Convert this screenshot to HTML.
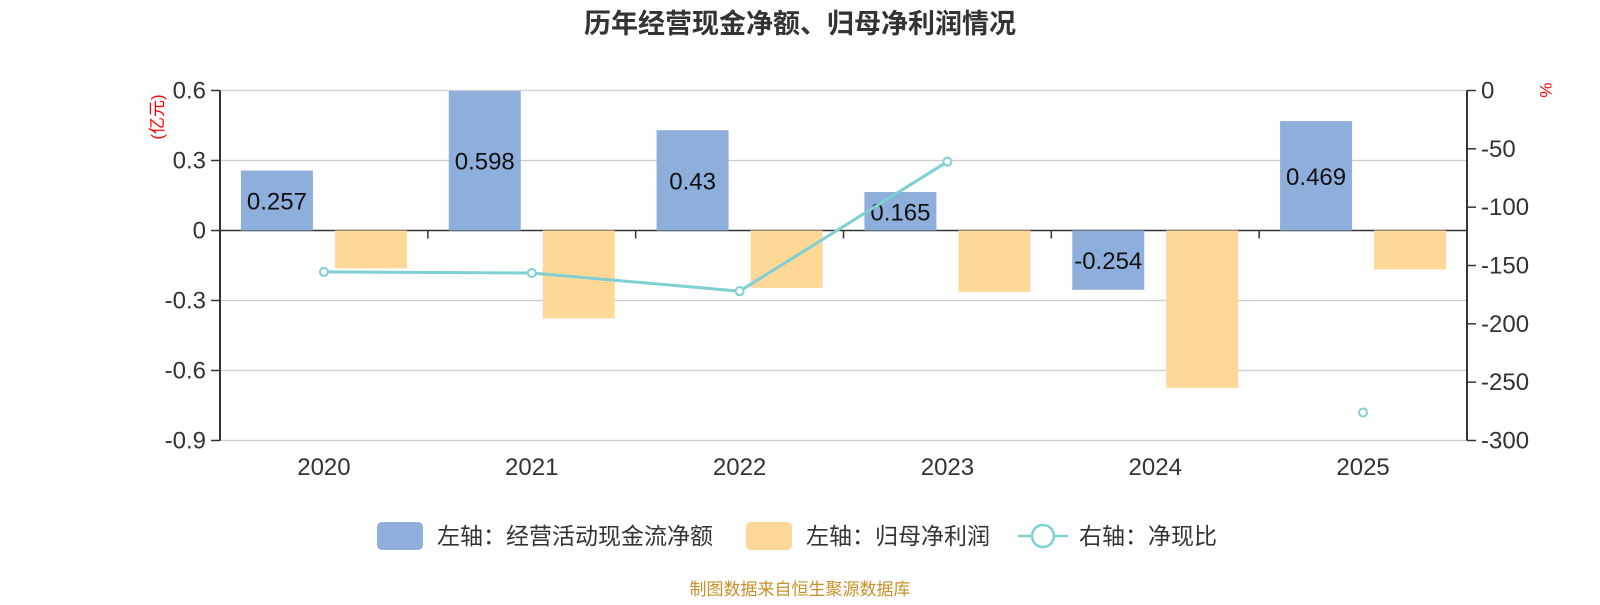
<!DOCTYPE html>
<html><head><meta charset="utf-8"><style>
body{margin:0;background:#fff;}
svg text{font-family:"Liberation Sans","Noto Sans CJK SC",sans-serif;}
</style></head><body>
<svg id="c" width="1600" height="600" xmlns="http://www.w3.org/2000/svg">
<text x="800" y="33" text-anchor="middle" font-size="27" font-weight="bold" fill="#333">历年经营现金净额、归母净利润情况</text>
<g id="grid"></g><g id="bars"></g><g id="axes"></g><g id="line"></g>
<text transform="translate(163,117) rotate(-90)" text-anchor="middle" font-size="17" fill="#f00">(亿元)</text>
<text transform="translate(1540,90) rotate(90)" text-anchor="middle" font-size="17" fill="#f00">%</text>
<g>
<rect x="377" y="522" width="46" height="28" rx="5" fill="#8eaedb"/>
<text x="437" y="544" font-size="23" fill="#333">左轴：经营活动现金流净额</text>
<rect x="746" y="522" width="46" height="28" rx="5" fill="#ffd898"/>
<text x="806" y="544" font-size="23" fill="#333">左轴：归母净利润</text>
<line x1="1018" y1="536" x2="1068" y2="536" stroke="#7fd0d4" stroke-width="2.5"/>
<circle cx="1043" cy="536" r="11" fill="#fff" stroke="#7fd0d4" stroke-width="2.5"/>
<text x="1079" y="544" font-size="23" fill="#333">右轴：净现比</text>
</g>
<text x="800" y="595" text-anchor="middle" font-size="17" fill="#c8902a">制图数据来自恒生聚源数据库</text>
</svg>
<script>
const categories=["2020","2021","2022","2023","2024","2025"];
const cashflow=[0.257,0.598,0.43,0.165,-0.254,0.469];
const profit=[-0.162,-0.377,-0.246,-0.263,-0.674,-0.167];
const ratio=[-155.5,-156.4,-172,-61,null,-276];
const leftTicks=[0.6,0.3,0,-0.3,-0.6,-0.9];
const rightTicks=[0,-50,-100,-150,-200,-250,-300];
const NS="http://www.w3.org/2000/svg";
const L=220,R=1467,T=90.5,B=440.5;
const yL=v=>T+(0.6-v)/1.5*(B-T);
const yR=v=>T+(0-v)/300*(B-T);
const bw=(R-L)/categories.length;
const cx=i=>L+bw*(i+0.5);
function mk(p,tag,a){const e=document.createElementNS(NS,tag);for(const k in a)e.setAttribute(k,a[k]);document.getElementById(p).appendChild(e);return e;}
leftTicks.forEach(v=>{
 const g=mk('grid','line',{x1:L,x2:R,y1:yL(v),y2:yL(v),stroke:v===0?'#333':'#ccc','stroke-width':v===0?1.5:1.2});
 
 
 mk('axes','line',{x1:L-9,x2:L,y1:yL(v),y2:yL(v),stroke:'#333','stroke-width':1.5});
 const t=mk('axes','text',{x:L-14,y:yL(v)+8,'text-anchor':'end','font-size':24,fill:'#333'});
 t.textContent=String(v);
 
 
});
rightTicks.forEach(v=>{
 mk('axes','line',{x1:R,x2:R+9,y1:yR(v),y2:yR(v),stroke:'#333','stroke-width':1.5});
 const t=mk('axes','text',{x:R+14,y:yR(v)+8,'font-size':24,fill:'#333'});
 t.textContent=String(v);
 
 
});
mk('axes','line',{x1:L,x2:L,y1:T,y2:B,stroke:'#333','stroke-width':2});
mk('axes','line',{x1:R,x2:R,y1:T,y2:B,stroke:'#333','stroke-width':2});
for(let i=1;i<categories.length;i++) mk('axes','line',{x1:L+bw*i,x2:L+bw*i,y1:yL(0),y2:yL(0)+8,stroke:'#333','stroke-width':1.5});
categories.forEach((c,i)=>{
 const t=mk('axes','text',{x:cx(i),y:475,'text-anchor':'middle','font-size':24,fill:'#333'});
 t.textContent=c;
 
 
 const y0=yL(0),y1=yL(cashflow[i]);
 const b=mk('bars','rect',{x:cx(i)-83,y:Math.min(y0,y1),width:72,height:Math.abs(y1-y0),fill:'#8eaedb'});
 
 
 const y2=yL(profit[i]);
 const o=mk('bars','rect',{x:cx(i)+11,y:Math.min(y0,y2),width:72,height:Math.abs(y2-y0),fill:'#ffd898'});
 
 
 const lb=mk('bars','text',{x:cx(i)-47,y:(y0+y1)/2+9,'text-anchor':'middle','font-size':24,fill:'#111'});
 lb.textContent=String(cashflow[i]);
 
 
});
let seg=[];
const flush=()=>{if(seg.length>1){const p=mk('line','polyline',{points:seg.join(' '),fill:'none',stroke:'#7fd0d4','stroke-width':3});}seg=[];};
ratio.forEach((v,i)=>{if(v===null){flush();return;}seg.push(cx(i)+','+yR(v));});flush();
ratio.forEach((v,i)=>{if(v===null)return;
 const c=mk('line','circle',{cx:cx(i),cy:yR(v),r:4,fill:'#fff',stroke:'#7fd0d4','stroke-width':2});
 
 
});
</script>
</body></html>
